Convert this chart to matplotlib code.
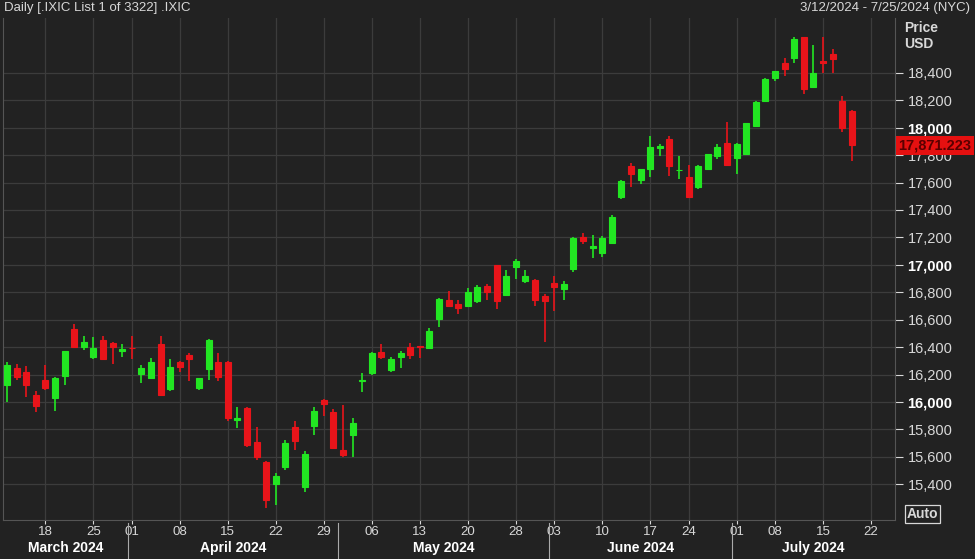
import matplotlib.pyplot as plt
import numpy as np

# daily candles .IXIC 3/12/2024 - 7/18/2024 (trading days)
opens = [16125, 16245, 16220, 16050, 16160, 16030, 16190, 16530, 16400, 16330, 16450, 16430, 16375,
         16395, 16205, 16175, 16425, 16095, 16290, 16340, 16100, 16240, 16290, 16290, 15870, 15955,
         15710, 15560, 15400, 15525, 15815, 15380, 15825, 16015, 15930, 15650, 15760, 16150, 16210,
         16365, 16235, 16330, 16400, 16405, 16395, 16605, 16745, 16715, 16700, 16735, 16845, 17000,
         16780, 16985, 16885, 16890, 16775, 16870, 16825, 16970, 17205, 17125, 17085, 17160, 17495,
         17720, 17620, 17700, 17855, 17920, 17690, 17640, 17570, 17700, 17790, 17890, 17780, 17810,
         18015, 18195, 18365, 18475, 18510, 18660, 18300, 18485, 18540, 18195, 18125]
highs = [16290, 16275, 16265, 16080, 16270, 16180, 16375, 16570, 16480, 16470, 16480, 16435, 16420,
         16480, 16270, 16320, 16480, 16310, 16300, 16360, 16160, 16460, 16360, 16295, 15960, 15960,
         15820, 15570, 15480, 15720, 15860, 15640, 15960, 16020, 15950, 15980, 15880, 16210, 16365,
         16420, 16330, 16370, 16430, 16410, 16540, 16760, 16810, 16740, 16830, 16850, 16860, 17000,
         16960, 17040, 16960, 16900, 16790, 16920, 16880, 17200, 17230, 17220, 17210, 17360, 17620,
         17740, 17700, 17940, 17880, 17940, 17790, 17730, 17730, 17810, 17880, 18045, 17890, 18035,
         18195, 18365, 18410, 18510, 18660, 18665, 18600, 18660, 18575, 18230, 18130]
lows = [16000, 16160, 16035, 15930, 16090, 15935, 16120, 16390, 16380, 16310, 16310, 16280, 16330,
        16310, 16140, 16170, 16050, 16080, 16215, 16150, 16090, 16160, 16150, 15860, 15810, 15670,
        15580, 15230, 15250, 15500, 15650, 15340, 15760, 15900, 15660, 15600, 15600, 16070, 16200,
        16310, 16220, 16250, 16310, 16320, 16390, 16550, 16700, 16640, 16690, 16720, 16740, 16680,
        16770, 16900, 16870, 16700, 16440, 16660, 16740, 16950, 17150, 17050, 17060, 17150, 17480,
        17570, 17590, 17640, 17790, 17650, 17625, 17495, 17550, 17690, 17770, 17730, 17660, 17800,
        18010, 18190, 18340, 18380, 18470, 18245, 18290, 18400, 18400, 17970, 17760]
closes = [16270, 16180, 16125, 15970, 16100, 16175, 16370, 16400, 16440, 16395, 16315, 16400, 16385,
          16390, 16250, 16290, 16050, 16255, 16255, 16315, 16175, 16450, 16180, 15885, 15880, 15685,
          15600, 15285, 15460, 15700, 15715, 15620, 15935, 15985, 15665, 15615, 15845, 16160, 16355,
          16330, 16315, 16355, 16345, 16400, 16520, 16750, 16700, 16685, 16800, 16840, 16800, 16735,
          16920, 17030, 16920, 16745, 16735, 16840, 16860, 17195, 17175, 17135, 17195, 17350, 17610,
          17665, 17700, 17860, 17865, 17720, 17695, 17495, 17720, 17810, 17860, 17730, 17880, 18035,
          18190, 18355, 18410, 18430, 18650, 18285, 18400, 18475, 18500, 17995, 17871.223]

# week-start ticks (trading-day index, label)
tick_idx = [4, 9, 13, 18, 23, 28, 33, 38, 43, 48, 53, 57, 62, 67, 71, 76, 80, 85, 90]
tick_lbl = ["18", "25", "01", "08", "15", "22", "29", "06", "13", "20", "28", "03",
            "10", "17", "24", "01", "08", "15", "22"]
month_names = ["March 2024", "April 2024", "May 2024", "June 2024", "July 2024"]
month_bounds = [-0.4, 12.6, 34.5, 56.5, 75.5, 92.5]
price_ticks = list(range(15400, 18401, 200))

BG = "#222222"
GREEN = "#22e622"
RED = "#e8141a"
GRID = "#3c3c3c"
TXT = "#d8d8d8"
YMIN, YMAX = 15139, 18800

plt.rcParams['font.family'] = ['Liberation Sans Narrow', 'Liberation Sans', 'DejaVu Sans']

fig = plt.figure(figsize=(9.75, 5.59), dpi=100, facecolor=BG)
ax = fig.add_axes([3 / 975, 1 - 520 / 559, 892 / 975, 502 / 559], facecolor=BG)

o = np.array(opens)
c = np.array(closes)
x = np.arange(len(o))
cols = [GREEN if cc >= oo else RED for oo, cc in zip(o, c)]
ax.vlines(x, lows, highs, colors=cols, linewidth=1.2, zorder=3)
ax.bar(x, c - o, bottom=o, width=0.62, color=cols, edgecolor=cols, linewidth=0.8, zorder=4)

ax.set_xlim(-0.42, 92.5)
ax.set_ylim(YMIN, YMAX)
ax.set_xticks(tick_idx)
ax.set_yticks(price_ticks)
ax.grid(True, color=GRID, linewidth=0.9)
ax.tick_params(axis='x', colors=TXT, length=3, labelsize=9.5, pad=1)
ax.set_xticklabels(tick_lbl)
ax.yaxis.tick_right()
ax.tick_params(axis='y', colors=TXT, length=6, labelsize=10.5, pad=3, direction='out')
ylbls = ax.set_yticklabels([f"{p:,}" for p in price_ticks])
for p, t in zip(price_ticks, ylbls):
    t.set_color("#ffffff" if p % 1000 == 0 else TXT)
    if p % 1000 == 0:
        t.set_fontweight("bold")
for s in ax.spines.values():
    s.set_color("#555555")
ax.spines['top'].set_visible(False)

# month labels below the dates
for i, name in enumerate(month_names):
    mid = (month_bounds[i] + month_bounds[i + 1]) / 2
    ax.text(mid, -0.042, name, transform=ax.get_xaxis_transform(), ha='center', va='top',
            color="#ffffff", fontsize=10, fontweight='bold')
    if i > 0:
        ax.plot([month_bounds[i], month_bounds[i]], [-0.005, -0.075], transform=ax.get_xaxis_transform(),
                color="#aaaaaa", linewidth=0.8, clip_on=False)

# last price tag
last = closes[-1]
ax.text(1.004, (last - YMIN) / (YMAX - YMIN), f"{last:,.3f}", transform=ax.transAxes,
        ha='left', va='center', fontsize=10.5, fontweight='bold', color="#5a0000",
        bbox=dict(boxstyle='square,pad=0.15', fc="#e51010", ec='none'))

fig.text(4 / 975, 1 - 8 / 559, "Daily [.IXIC List 1 of 3322] .IXIC", color=TXT, fontsize=9.5, va='center')
fig.text(970 / 975, 1 - 8 / 559, "3/12/2024 - 7/25/2024 (NYC)", color=TXT, fontsize=9.5, va='center', ha='right')
fig.text(904 / 975, 1 - 28 / 559, "Price", color=TXT, fontsize=10, fontweight='bold', va='center')
fig.text(904 / 975, 1 - 44 / 559, "USD", color=TXT, fontsize=10, fontweight='bold', va='center')
fig.text(907 / 975, 1 - 514 / 559, "Auto", color=TXT, fontsize=10, fontweight='bold', va='center',
         bbox=dict(boxstyle='square,pad=0.12', fc=BG, ec=TXT, lw=0.9))

fig.savefig("out.png", dpi=100, facecolor=BG)
